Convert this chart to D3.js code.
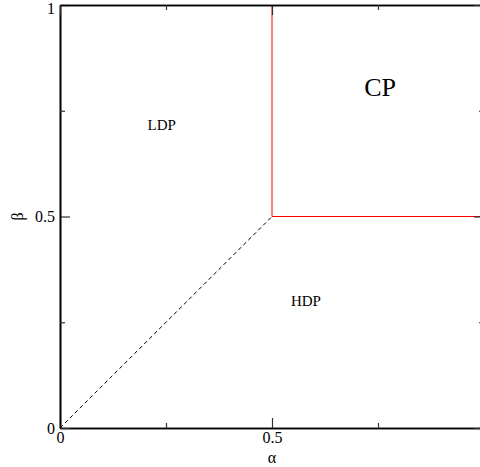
<!DOCTYPE html>
<html>
<head>
<meta charset="utf-8">
<script src="https://cdn.jsdelivr.net/npm/d3@7"></script>
<style>
  body { margin: 0; background: #fff; }
  text { font-family: "Liberation Serif", "Times New Roman", serif; }
</style>
</head>
<body>
<div id="chart"></div>
<script>
// phase diagram data
var majorTicks = [0, 0.5, 1];
var bottomLabels = [0, 0.5];
var minorTicks = [0.25, 0.75];
var redBoundary = [[0.5, 0.5], [0.5, 1]];
var redBoundary2 = [[0.5, 0.5], [1, 0.5]];
var dashedBoundary = [[0, 0], [0.5, 0.5]];
var regionLabels = [
  {name: "LDP", a: 0.24, b: 0.712, size: 15},
  {name: "HDP", a: 0.58, b: 0.296, size: 15},
  {name: "CP", a: 0.755, b: 0.80, size: 26}
];

var width = 480, height = 467;
var margin = {top: 5, left: 60};
var plotW = 424, plotH = 423;

var svg = d3.select("#chart").append("svg")
  .attr("width", width)
  .attr("height", height);

var x = d3.scaleLinear().domain([0, 1]).range([margin.left, margin.left + plotW]);
var y = d3.scaleLinear().domain([0, 1]).range([margin.top + plotH, margin.top]);

var fmt = function(d) { return d === 0 ? "0" : d === 1 ? "1" : "0.5"; };

// boundaries first, axes go over them
var line = d3.line().x(function(d) { return x(d[0]); }).y(function(d) { return y(d[1]); });

svg.append("path").datum(dashedBoundary)
  .attr("d", line).attr("fill", "none")
  .attr("stroke", "#000").attr("stroke-width", 1)
  .attr("stroke-dasharray", "4,3");

svg.append("path").datum(redBoundary)
  .attr("d", line).attr("fill", "none")
  .attr("stroke", "#f00").attr("stroke-width", 1);
svg.append("path").datum(redBoundary2)
  .attr("d", line).attr("fill", "none")
  .attr("stroke", "#f00").attr("stroke-width", 1);

// bottom
svg.append("g").attr("class", "axis")
  .attr("transform", "translate(0," + y(0) + ")")
  .call(d3.axisBottom(x).tickValues(bottomLabels).tickSizeInner(-10).tickSizeOuter(0).tickPadding(4).tickFormat(fmt));
svg.append("g").attr("class", "axis minor")
  .attr("transform", "translate(0," + y(0) + ")")
  .call(d3.axisBottom(x).tickValues(minorTicks).tickSizeInner(-5).tickSizeOuter(0).tickFormat(""));
// left
var left = svg.append("g").attr("class", "axis")
  .attr("transform", "translate(" + x(0) + ",0)")
  .call(d3.axisLeft(y).tickValues(majorTicks).tickSizeInner(-10).tickSizeOuter(0).tickPadding(5).tickFormat(fmt));
left.selectAll(".tick text").filter(function(d) { return d === 1; }).attr("dy", "0.5em");
svg.append("g").attr("class", "axis minor")
  .attr("transform", "translate(" + x(0) + ",0)")
  .call(d3.axisLeft(y).tickValues(minorTicks).tickSizeInner(-5).tickSizeOuter(0).tickFormat(""));
// top
svg.append("g").attr("class", "axis")
  .attr("transform", "translate(0," + y(1) + ")")
  .call(d3.axisTop(x).tickValues(majorTicks).tickSizeInner(-10).tickSizeOuter(0).tickFormat(""));
svg.append("g").attr("class", "axis minor")
  .attr("transform", "translate(0," + y(1) + ")")
  .call(d3.axisTop(x).tickValues(minorTicks).tickSizeInner(-5).tickSizeOuter(0).tickFormat(""));
// right
svg.append("g").attr("class", "axis")
  .attr("transform", "translate(" + x(1) + ",0)")
  .call(d3.axisRight(y).tickValues(majorTicks).tickSizeInner(-10).tickSizeOuter(0).tickFormat(""));
svg.append("g").attr("class", "axis minor")
  .attr("transform", "translate(" + x(1) + ",0)")
  .call(d3.axisRight(y).tickValues(minorTicks).tickSizeInner(-5).tickSizeOuter(0).tickFormat(""));

svg.selectAll(".axis path").attr("stroke", "#000").attr("stroke-width", 1.6);
svg.selectAll(".axis line").attr("stroke", "#333").attr("stroke-width", 1.2);
svg.selectAll(".axis text")
  .attr("font-family", "Liberation Serif, serif")
  .attr("font-size", 16)
  .attr("fill", "#000");

svg.selectAll(".region").data(regionLabels).enter().append("text")
  .attr("class", "region")
  .attr("x", function(d) { return x(d.a); })
  .attr("y", function(d) { return y(d.b); })
  .attr("text-anchor", "middle")
  .attr("dominant-baseline", "middle")
  .attr("font-size", function(d) { return d.size; })
  .text(function(d) { return d.name; });

// axis titles
svg.append("text")
  .attr("x", x(0.5)).attr("y", 463)
  .attr("text-anchor", "middle")
  .attr("font-size", 16)
  .text("α");
svg.append("text")
  .attr("transform", "translate(23," + y(0.5) + ") rotate(-90)")
  .attr("text-anchor", "middle")
  .attr("font-size", 16)
  .text("β");
</script>
</body>
</html>
